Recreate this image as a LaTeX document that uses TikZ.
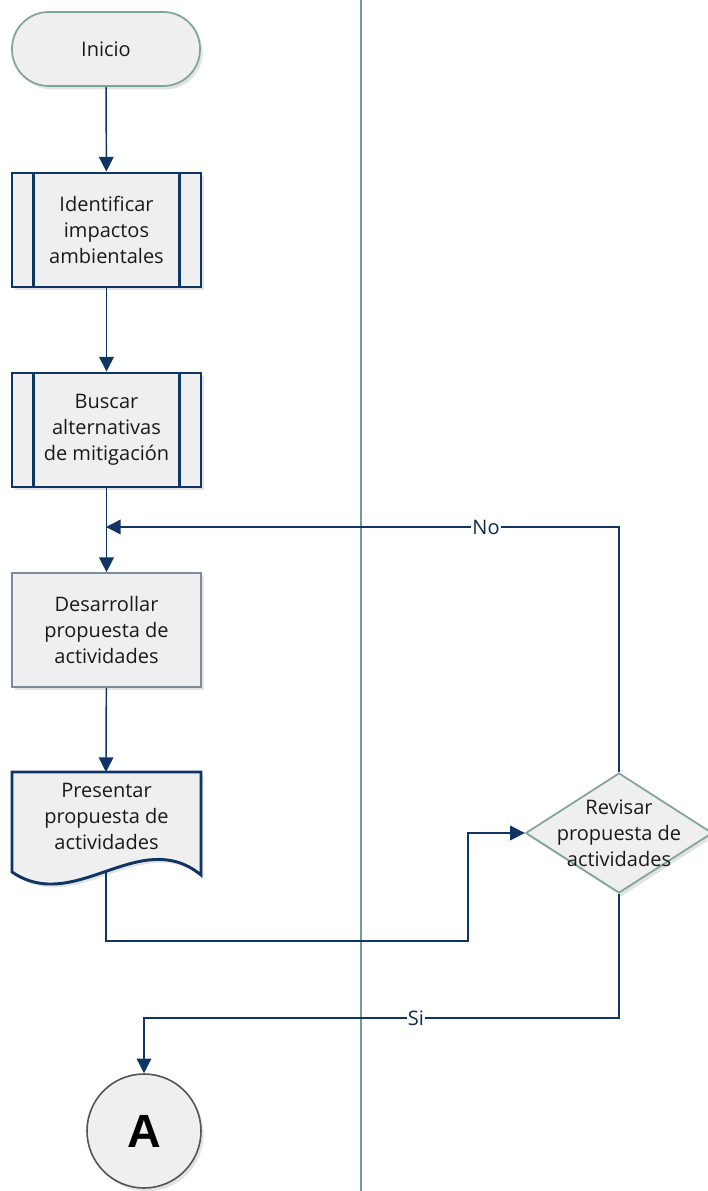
\documentclass[tikz,border=0pt]{standalone}
\usepackage{fontspec}
\setmainfont{Open Sans}
\newfontfamily\connfont{Liberation Sans}
\usetikzlibrary{arrows.meta,shapes.geometric,shadows}

\definecolor{navy}{HTML}{0F3564}
\definecolor{tealedge}{HTML}{7FA597}
\definecolor{laneline}{HTML}{6E9E8E}
\definecolor{boxfill}{HTML}{EFEFEF}
\definecolor{grayedge}{HTML}{7D8B9A}
\definecolor{circedge}{HTML}{555555}
\definecolor{inktext}{HTML}{1A1A1A}

\tikzset{
  flowtext/.style={font=\fontsize{15}{19.5}\selectfont, text=inktext, align=center},
  softshadow/.style={drop shadow={opacity=0.22, shadow xshift=2pt, shadow yshift=-2.5pt}},
  terminal/.style={flowtext, draw=tealedge, line width=1.3pt, fill=boxfill, rounded corners=27.5pt,
    minimum width=141pt, minimum height=55.5pt, softshadow},
  subproc/.style={flowtext, draw=navy, line width=2.2pt, fill=boxfill,
    minimum width=141.75pt, minimum height=85.5pt, softshadow},
  subline/.style={draw=navy, line width=2.2pt},
  procbox/.style={flowtext, draw=grayedge, line width=1.3pt, fill=boxfill,
    minimum width=141.75pt, minimum height=85.5pt, softshadow},
  docshape/.style={draw=navy, line width=2.2pt, fill=boxfill, softshadow},
  decision/.style={diamond, draw=tealedge, line width=1.3pt, fill=boxfill, inner sep=0pt,
    minimum width=140pt, minimum height=90pt, softshadow},
  connector/.style={circle, draw=circedge, line width=1.2pt, fill=boxfill, minimum size=85.5pt,
    inner sep=0pt, font=\connfont\fontsize{35}{35}\bfseries, softshadow},
  flow/.style={draw=navy, line width=1.1pt, -{Triangle[length=11pt, width=11pt]}},
  flowplain/.style={draw=navy, line width=1.1pt},
  edgelabel/.style={font=\fontsize{15}{19.5}\selectfont, text=navy!80!black, fill=white, inner sep=1pt},
  lane/.style={draw=laneline, line width=1.5pt}
}

\begin{document}
\begin{tikzpicture}[x=0.75pt, y=-0.75pt]
\useasboundingbox (0,0) rectangle (707,1191);

% lane divider
\draw[lane] (361,0) -- (361,1191);

% start
\node[terminal] (ini) at (106,49) {Inicio};

% predefined processes
\node[subproc] (ident) at (106.5,230) {Identificar\\impactos\\ambientales};
\draw[subline] ([xshift=17.25pt]ident.north west) -- ([xshift=17.25pt]ident.south west);
\draw[subline] ([xshift=-17.25pt]ident.north east) -- ([xshift=-17.25pt]ident.south east);

\node[subproc] (busc) at (106.5,430) {Buscar\\alternativas\\de mitigación};
\draw[subline] ([xshift=17.25pt]busc.north west) -- ([xshift=17.25pt]busc.south west);
\draw[subline] ([xshift=-17.25pt]busc.north east) -- ([xshift=-17.25pt]busc.south east);

% process
\node[procbox] (desa) at (106.5,630) {Desarrollar\\propuesta de\\actividades};

% document
\draw[docshape] (12,772) -- (201,772) -- (201,875)
  .. controls (140,825) and (75,915) .. (12,872) -- cycle;
\node[flowtext] (pres) at (106.5,816) {Presentar\\propuesta de\\actividades};
\coordinate (presout) at (106,871);

% decision
\node[decision] (rev) at (619,833) {};
\node[flowtext] (revtext) at (rev.center) {Revisar\\propuesta de\\actividades};

% off-page connector
\node[connector] (conA) at (144,1131) {A};

% junctions
\coordinate (nojoin) at (106,527);
\coordinate (presturn) at (468,941);
\coordinate (siturn) at (619,1018);

% connectors
\draw[flow] (ini) -- (ident);
\draw[flow] (ident) -- (busc);
\draw[flow] (busc) -- (desa);
\draw[flow] (desa) -- (106,772);
\draw[flow] (rev.north) |- (nojoin);
\draw[flow] (presout) |- (presturn) |- (rev.west);
\draw[flow] (rev.south) -- (siturn) -| (conA.north);

% branch labels
\node[edgelabel] (nolabel) at (486,527) {No};
\node[edgelabel] (silabel) at (416,1018) {Si};
\end{tikzpicture}
\end{document}
